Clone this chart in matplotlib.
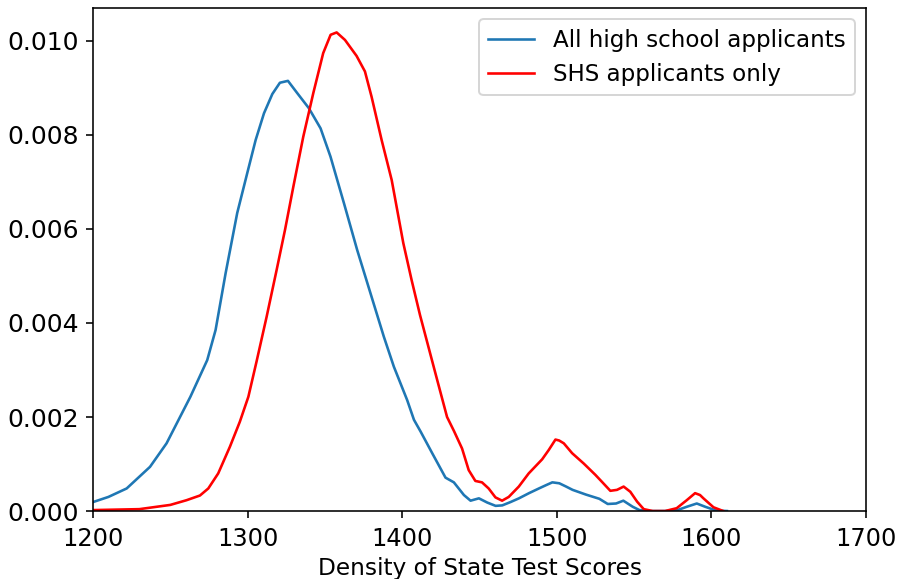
import matplotlib
matplotlib.use("Agg")
import matplotlib.pyplot as plt

# =========================
# DATA
# =========================

all_x = [1200, 1210, 1221.8, 1236.9, 1247.6, 1263, 1273.9, 1279.3, 1285.8, 1293.3,
         1299.8, 1305.2, 1310.6, 1316, 1320.9, 1326.1, 1332.1, 1339.6, 1347.2, 1353.6,
         1362.3, 1370.9, 1379.5, 1388.1, 1394.6, 1403.2, 1407.6, 1411.9, 1419.4, 1428,
         1433.4, 1439.9, 1444.2, 1449.6, 1455, 1460.4, 1464.7, 1470, 1475.5, 1482,
         1488.4, 1493, 1497.1, 1501.6, 1506, 1510.2, 1518.8, 1527.5, 1532.9, 1538.3,
         1543, 1549.1, 1553.4, 1560, 1570, 1578, 1584, 1590.5, 1596, 1603, 1610]
all_y = [0.00019, 0.0003, 0.00048, 0.00094, 0.00144, 0.00243, 0.00321, 0.00385, 0.00506, 0.00634,
         0.00719, 0.00789, 0.00846, 0.00887, 0.00911, 0.00915, 0.00889, 0.00857, 0.00814, 0.00754,
         0.00655, 0.00555, 0.00463, 0.00371, 0.00307, 0.00236, 0.00194, 0.00169, 0.00123, 0.00071,
         0.00061, 0.00034, 0.00022, 0.00027, 0.00018, 0.00011, 0.00012, 0.00019, 0.00027, 0.00038,
         0.00048, 0.00055, 0.00061, 0.00059, 0.00052, 0.00045, 0.00035, 0.00026, 0.00015, 0.00016,
         0.00022, 0.00009, 0.00002, 0.0, 0.0, 0.00002, 0.00009, 0.00016, 0.00009, 0.00001, 0.0]

shs_x = [1200, 1230, 1250, 1260.5, 1269.2, 1274.6, 1281, 1288.6, 1295, 1300.5,
         1305.8, 1312.3, 1318.8, 1324.2, 1329.6, 1336, 1342.5, 1348.9, 1353.7, 1357.6,
         1363, 1370.5, 1375.9, 1380.2, 1386.7, 1393.2, 1400.7, 1406.1, 1411.5, 1422.6,
         1429, 1433.5, 1438.7, 1443, 1447.3, 1451.6, 1455.9, 1460.3, 1464.6, 1468.9,
         1475.4, 1481.8, 1490.5, 1494.8, 1499.1, 1501.5, 1504.5, 1509.9, 1517.4, 1524.9,
         1529.2, 1534.6, 1538.9, 1543.2, 1547.5, 1551.9, 1556.2, 1562, 1570, 1577.5,
         1584, 1589.4, 1592.6, 1594.8, 1601.3, 1607.6]
shs_y = [0.00002, 0.00004, 0.00013, 0.00023, 0.00033, 0.00048, 0.0008, 0.00137, 0.0019, 0.00243,
         0.00318, 0.00413, 0.00513, 0.00598, 0.0069, 0.00796, 0.00889, 0.00974, 0.01013, 0.01018,
         0.01002, 0.00968, 0.00935, 0.00881, 0.00789, 0.00704, 0.0057, 0.00491, 0.00417, 0.00279,
         0.002, 0.0017, 0.00133, 0.00087, 0.00064, 0.00061, 0.00048, 0.00029, 0.00022, 0.0003,
         0.00052, 0.0008, 0.0011, 0.0013, 0.00152, 0.0015, 0.00144, 0.00123, 0.00101, 0.00077,
         0.00062, 0.00043, 0.00045, 0.00052, 0.00041, 0.0002, 0.00004, 0.0, 0.0, 0.00006,
         0.00023, 0.00038, 0.00034, 0.00027, 0.00008, 0.0]

# =========================
# PLOT
# =========================

fig = plt.figure(figsize=(899 / 144, 579 / 144), dpi=144)
ax = fig.add_axes([0.1034, 0.1174, 0.86, 0.8688])

ax.plot(all_x, all_y, color="#1f77b4", lw=1.3, label="All high school applicants")
ax.plot(shs_x, shs_y, color="red", lw=1.3, label="SHS applicants only")

ax.set_xlim(1200, 1700)
ax.set_ylim(0, 0.0107)
ax.set_xticks([1200, 1300, 1400, 1500, 1600, 1700])
ax.set_yticks([0, 0.002, 0.004, 0.006, 0.008, 0.010])
ax.set_yticklabels(["0.000", "0.002", "0.004", "0.006", "0.008", "0.010"])
ax.tick_params(axis="y", labelsize=12.5)
ax.tick_params(axis="x", labelsize=12, pad=4.5)
ax.set_xlabel("Density of State Test Scores", fontsize=11.6, labelpad=3)

ax.legend(loc="upper right", fontsize=11.5)

fig.savefig("out.png", dpi=144)
